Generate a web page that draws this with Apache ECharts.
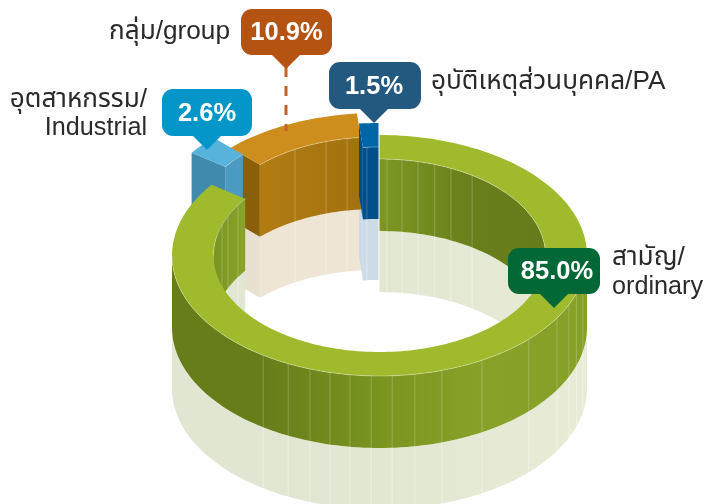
<!DOCTYPE html>
<html><head><meta charset="utf-8">
<style>html,body{margin:0;padding:0;background:#fff}#c{width:705px;height:504px}</style>
<script src="https://cdn.jsdelivr.net/npm/echarts@6/dist/echarts.min.js"></script>
</head><body><div id="c"></div>
<script>
// ---- data (clockwise from 12 o'clock) ----
const categories = ['สามัญ/\nordinary', 'อุตสาหกรรม/\nIndustrial', 'กลุ่ม/group', 'อุบัติเหตุส่วนบุคคล/PA'];
const shares = [85.0, 2.6, 10.9, 1.5];

// ---- geometry and style ----
const G = {cx: 379.5, cy: 255.5, rx: 207.5, ry: 120.5, irx: 166, iry: 96.5, depth: 72, refl: 61};
const FONT = '"Liberation Sans","Noto Sans Thai","Noto Sans",sans-serif';
const grad = (x, x2, stops) => ({type: 'linear', x, y: 0, x2, y2: 0, global: true,
  colorStops: stops.map(s => ({offset: s[0], color: s[1]}))});
const styles = [
  {shift: [0, 0], top: '#9fbb2d',
   inner: grad(213, 546, [[0, '#7a9422'], [.1, '#8aa42b'], [.5, '#7d9722'], [.78, '#687f1c'], [1, '#667c1a']]),
   outer: grad(172, 587, [[0, '#677d1a'], [.22, '#677d1a'], [.5, '#7a9420'], [.75, '#88a128'], [1, '#87a027']]),
   refl: grad(172, 587, [[0, '#e1e6d3'], [.5, '#e2e7d3'], [1, '#e8ecd6']]),
   innerRuns: [[270, 360], [360, 450]], outerRuns: [[90, 270]],
   innerSeams: [2.6, 7.8, 13.4, 19.4, 25.5, 33.9, 288.4, 294.1, 301.5],
   outerSeams: [214.1, 206.1, 199.6, 193.8, 188.2, 182.3, 176.5, 170.2, 162.5, 150.4, 134, 121.2, 114.1, 108.4, 101.5]},
  {shift: [-20, -32], top: '#57b3dc', inner: '#4a9ac2', cut: '#3f8aad', refl: '#dbe9f0', reflCut: '#d8e6ee', innerSeams: []},
  {shift: [-3, -22], top: '#cd8e1d', inner: grad(259, 362, [[0, '#b27c12'], [1, '#a3720f']]), cut: '#8a5f0a',
   refl: '#efe5d5', reflCut: '#e8e0d0', innerSeams: [330.6, 342.3, 349.8]},
  {shift: [-1, -12], top: '#0066a8', inner: '#004f8a', cut: '#004f8a', refl: '#cddbe7', reflCut: '#cddbe7', innerSeams: [356]}
];
const callouts = [
  {box: [508, 248, 92, 46], tip: [554, 308], color: '#026836', labelX: 612, labelY: [258, 287], align: 'left', textDx: 3},
  {box: [162, 89, 90, 47], tip: [207, 150], color: '#0495c9', labelX: 147, labelY: [100, 128], align: 'right', textDx: 0},
  {box: [241, 9, 91, 46], tip: [286, 69], color: '#b55412', labelX: 230, labelY: [32], align: 'right', textDx: 0, leader: [131]},
  {box: [329, 62, 92, 47], tip: [374, 123], color: '#23597f', labelX: 431, labelY: [82], align: 'left', textDx: -1}
];
const SEAM = 'rgba(255,255,255,0.22)';
const SEAM_R = 'rgba(255,255,255,0.38)';
const THAI = /[\u0E00-\u0E7F]/;

// ---- angles from the values ----
const total = shares.reduce((a, b) => a + b, 0);
let acc = 0;
const spans = shares.map(v => { const a0 = acc / total * 360; acc += v; return [a0, acc / total * 360]; });

function pt(a, rx, ry, s, d) {
  const t = a * Math.PI / 180;
  return [G.cx + s[0] + rx * Math.sin(t), G.cy + s[1] - ry * Math.cos(t) + d];
}
function arc(a0, a1, rx, ry, s, d) {
  const n = Math.max(2, Math.ceil(Math.abs(a1 - a0) / 1.5)), out = [];
  for (let i = 0; i <= n; i++) out.push(pt(a0 + (a1 - a0) * i / n, rx, ry, s, d));
  return out;
}
const poly = (points, fill) => ({type: 'polygon', shape: {points}, style: {fill, stroke: null}});
const band = (a0, a1, rx, ry, s, d0, d1, fill) =>
  poly(arc(a0, a1, rx, ry, s, d0).concat(arc(a1, a0, rx, ry, s, d1)), fill);
const cutFace = (a, s, d0, d1, fill) => poly([pt(a, G.rx, G.ry, s, d0), pt(a, G.irx, G.iry, s, d0),
  pt(a, G.irx, G.iry, s, d1), pt(a, G.rx, G.ry, s, d1)], fill);
const seam = (a, rx, ry, s, d0, d1, color) => ({type: 'line',
  shape: {x1: pt(a, rx, ry, s, d0)[0], y1: pt(a, rx, ry, s, d0)[1], x2: pt(a, rx, ry, s, d1)[0], y2: pt(a, rx, ry, s, d1)[1]},
  style: {stroke: color, lineWidth: 1, fill: null}});
const edge = (a0, a1, rx, ry, s) => ({type: 'polyline', shape: {points: arc(a0, a1, rx, ry, s, 0)},
  style: {stroke: 'rgba(255,255,255,0.4)', lineWidth: 0.8, fill: null}});

function runsOf(i) {
  const st = styles[i], sp = spans[i];
  return {inner: st.innerRuns ? st.innerRuns.map(r => clip(r, sp)).filter(Boolean) : [sp],
          outer: st.outerRuns ? st.outerRuns.map(r => clip(r, sp)).filter(Boolean) : []};
}
function clip(r, sp) {
  let lo = r[0], hi = r[1];
  if (lo >= 360) { lo -= 360; hi -= 360; }
  lo = Math.max(lo, sp[0]); hi = Math.min(hi, sp[1]);
  return hi > lo ? [lo, hi] : null;
}

function renderReflection(p, api) {
  const i = api.value(0), st = styles[i], s = st.shift, sp = spans[i], r = runsOf(i), ch = [];
  const d0 = G.depth, d1 = G.depth + G.refl;
  if (st.cut) ch.push(cutFace(sp[0], s, d0, d1, st.reflCut));
  r.inner.forEach(q => ch.push(band(q[0], q[1], G.irx, G.iry, s, d0, d1, st.refl)));
  r.outer.forEach(q => ch.push(band(q[0], q[1], G.rx, G.ry, s, d0, d1, st.refl)));
  st.innerSeams.forEach(a => ch.push(seam(a, G.irx, G.iry, s, d0, d1, SEAM_R)));
  (st.outerSeams || []).forEach(a => ch.push(seam(a, G.rx, G.ry, s, d0, d1, SEAM_R)));
  return {type: 'group', children: ch};
}
function renderBody(p, api) {
  const i = api.value(0), st = styles[i], s = st.shift, sp = spans[i], r = runsOf(i), ch = [];
  if (st.cut) ch.push(cutFace(sp[0], s, 0, G.depth, st.cut));
  r.inner.forEach(q => ch.push(band(q[0], q[1], G.irx, G.iry, s, 0, G.depth, st.inner)));
  st.innerSeams.forEach(a => ch.push(seam(a, G.irx, G.iry, s, 0, G.depth, SEAM)));
  r.outer.forEach(q => ch.push(band(q[0], q[1], G.rx, G.ry, s, 0, G.depth, st.outer)));
  (st.outerSeams || []).forEach(a => ch.push(seam(a, G.rx, G.ry, s, 0, G.depth, SEAM)));
  ch.push(poly(arc(sp[0], sp[1], G.rx, G.ry, s, 0).concat(arc(sp[1], sp[0], G.irx, G.iry, s, 0)), st.top));
  r.inner.forEach(q => ch.push(edge(q[0], q[1], G.irx, G.iry, s)));
  r.outer.forEach(q => ch.push(edge(q[0], q[1], G.rx, G.ry, s)));
  return {type: 'group', children: ch};
}
function renderCallout(p, api) {
  const i = api.value(0), c = callouts[i], b = c.box, ch = [];
  const mid = b[0] + b[2] / 2 + c.textDx;
  if (c.leader) ch.push({type: 'line', shape: {x1: c.tip[0], y1: c.tip[1] - 2, x2: c.tip[0], y2: c.leader[0]},
    style: {stroke: '#c4622a', lineWidth: 3, lineDash: [10, 9], fill: null}});
  ch.push({type: 'rect', shape: {x: b[0], y: b[1], width: b[2], height: b[3], r: 11}, style: {fill: c.color}});
  ch.push(poly([[c.tip[0] - 15, b[1] + b[3] - 1], [c.tip[0] + 15, b[1] + b[3] - 1], c.tip], c.color));
  ch.push({type: 'text', style: {x: mid, y: b[1] + b[3] / 2 + 1, text: shares[i].toFixed(1) + '%',
    fill: '#fff', font: 'bold 25.5px ' + FONT, textAlign: 'center', textVerticalAlign: 'middle'}});
  categories[i].split('\n').forEach((line, k) => ch.push({type: 'text', style: {x: c.labelX, y: c.labelY[k], text: line,
    fill: '#2a2a2a', font: (THAI.test(line) ? 26.2 : 25.2) + 'px ' + FONT, textAlign: c.align, textVerticalAlign: 'middle'}}));
  return {type: 'group', children: ch};
}

const drawOrder = [2, 1, 3, 0];
const chart = echarts.init(document.getElementById('c'), null, {renderer: 'canvas'});
const base = {type: 'custom', coordinateSystem: 'none', silent: true, animation: false, clip: false,
  encode: {value: 0}};
chart.setOption({
  animation: false, backgroundColor: '#fff',
  series: [
    Object.assign({}, base, {name: 'reflection', z: 1, renderItem: renderReflection, data: drawOrder.map(i => [i])}),
    Object.assign({}, base, {name: 'ring', z: 2, renderItem: renderBody, data: drawOrder.map(i => [i])}),
    Object.assign({}, base, {name: 'callouts', z: 3, renderItem: renderCallout, data: [0, 1, 2, 3].map(i => [i])})
  ]
});
</script></body></html>
